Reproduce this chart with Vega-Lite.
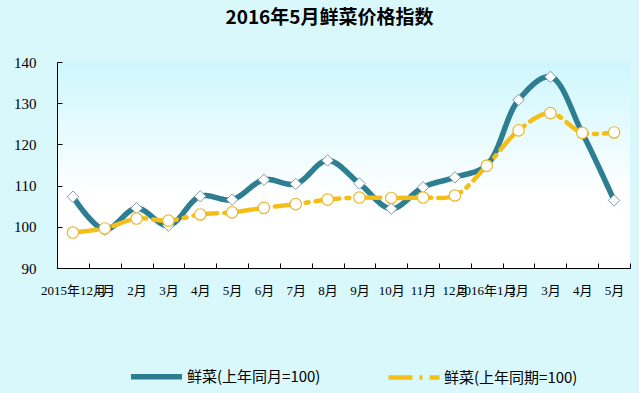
{
  "$schema": "https://vega.github.io/schema/vega-lite/v6.json",
  "autosize": "none",
  "width": 573,
  "height": 206,
  "padding": {"left": 57, "top": 62, "right": 9, "bottom": 125},
  "background": "#D8F8FC",
  "config": {
    "view": {"stroke": null, "fill": {"gradient": "linear", "x1": 0, "y1": 0, "x2": 0, "y2": 1, "stops": [{"offset": 0, "color": "#CDF7FD"}, {"offset": 0.65, "color": "#FFFFFF"}, {"offset": 1, "color": "#FFFFFF"}]}},
    "font": "Noto Sans CJK SC"
  },
  "title": {
    "text": "2016年5月鲜菜价格指数",
    "font": "Noto Sans CJK SC",
    "fontSize": 19,
    "fontWeight": "bold",
    "color": "#000000",
    "anchor": "middle",
    "dx": -14,
    "offset": 27
  },
  "data": {
    "values": [
      {"m": "2015年12月", "s": "鲜菜(上年同月=100)", "v": 107.3},
      {"m": "1月", "s": "鲜菜(上年同月=100)", "v": 99.3},
      {"m": "2月", "s": "鲜菜(上年同月=100)", "v": 104.5},
      {"m": "3月", "s": "鲜菜(上年同月=100)", "v": 100.3},
      {"m": "4月", "s": "鲜菜(上年同月=100)", "v": 107.4},
      {"m": "5月", "s": "鲜菜(上年同月=100)", "v": 106.6},
      {"m": "6月", "s": "鲜菜(上年同月=100)", "v": 111.4},
      {"m": "7月", "s": "鲜菜(上年同月=100)", "v": 110.4},
      {"m": "8月", "s": "鲜菜(上年同月=100)", "v": 116.1},
      {"m": "9月", "s": "鲜菜(上年同月=100)", "v": 110.5},
      {"m": "10月", "s": "鲜菜(上年同月=100)", "v": 104.4},
      {"m": "11月", "s": "鲜菜(上年同月=100)", "v": 109.6},
      {"m": "12月", "s": "鲜菜(上年同月=100)", "v": 112.0},
      {"m": "2016年1月", "s": "鲜菜(上年同月=100)", "v": 115.0},
      {"m": "2016年2月", "s": "鲜菜(上年同月=100)", "v": 130.8},
      {"m": "2016年3月", "s": "鲜菜(上年同月=100)", "v": 136.4},
      {"m": "2016年4月", "s": "鲜菜(上年同月=100)", "v": 122.8},
      {"m": "2016年5月", "s": "鲜菜(上年同月=100)", "v": 106.4},
      {"m": "2015年12月", "s": "鲜菜(上年同期=100)", "v": 98.6},
      {"m": "1月", "s": "鲜菜(上年同期=100)", "v": 99.6},
      {"m": "2月", "s": "鲜菜(上年同期=100)", "v": 102.0},
      {"m": "3月", "s": "鲜菜(上年同期=100)", "v": 101.5},
      {"m": "4月", "s": "鲜菜(上年同期=100)", "v": 103.0},
      {"m": "5月", "s": "鲜菜(上年同期=100)", "v": 103.5},
      {"m": "6月", "s": "鲜菜(上年同期=100)", "v": 104.6},
      {"m": "7月", "s": "鲜菜(上年同期=100)", "v": 105.5},
      {"m": "8月", "s": "鲜菜(上年同期=100)", "v": 106.6},
      {"m": "9月", "s": "鲜菜(上年同期=100)", "v": 107.1},
      {"m": "10月", "s": "鲜菜(上年同期=100)", "v": 107.0},
      {"m": "11月", "s": "鲜菜(上年同期=100)", "v": 107.1},
      {"m": "12月", "s": "鲜菜(上年同期=100)", "v": 107.6},
      {"m": "2016年1月", "s": "鲜菜(上年同期=100)", "v": 114.8},
      {"m": "2016年2月", "s": "鲜菜(上年同期=100)", "v": 123.4},
      {"m": "2016年3月", "s": "鲜菜(上年同期=100)", "v": 127.6},
      {"m": "2016年4月", "s": "鲜菜(上年同期=100)", "v": 122.8},
      {"m": "2016年5月", "s": "鲜菜(上年同期=100)", "v": 122.9}
    ]
  },
  "encoding": {
    "x": {
      "field": "m",
      "type": "nominal",
      "sort": null,
      "scale": {"type": "band", "paddingInner": 0, "paddingOuter": 0},
      "axis": {
        "title": null,
        "labelAngle": 0,
        "labelExpr": "datum.label == '2016年1月' ? datum.label : replace(datum.label, '2016年', '')",
        "labelFont": "Liberation Serif, Noto Sans CJK SC",
        "labelFontSize": 13,
        "labelColor": "#000000",
        "labelOverlap": false,
        "labelBound": false,
        "labelFlush": false,
        "labelPadding": 21,
        "tickBand": "extent",
        "tickSize": -5,
        "tickColor": "#000000",
        "domainColor": "#000000",
        "grid": false
      }
    },
    "y": {
      "field": "v",
      "type": "quantitative",
      "scale": {"domain": [90, 140], "nice": false, "zero": false},
      "axis": {
        "title": null,
        "values": [90, 100, 110, 120, 130, 140],
        "labelFont": "Liberation Serif",
        "labelFontSize": 15,
        "labelColor": "#000000",
        "labelPadding": 26,
        "tickSize": -5,
        "tickColor": "#000000",
        "domainColor": "#000000",
        "grid": false
      }
    }
  },
  "layer": [
    {
      "mark": {"type": "line", "interpolate": "catmull-rom", "strokeCap": "round"},
      "encoding": {
        "color": {
          "field": "s",
          "type": "nominal",
          "sort": null,
          "scale": {"domain": ["鲜菜(上年同月=100)", "鲜菜(上年同期=100)"], "range": ["#2E7E92", "#F4BE18"]},
          "legend": {
            "title": null,
            "orient": "none",
            "legendX": 71,
            "legendY": 286,
            "direction": "horizontal",
            "symbolType": "stroke",
            "symbolSize": 2600,
            "symbolStrokeWidth": 5,
            "labelFont": "Noto Sans CJK SC",
            "labelFontSize": 15,
            "labelColor": "#000000",
            "labelOffset": 2,
            "columnPadding": 58
          }
        },
        "strokeDash": {
          "field": "s",
          "type": "nominal",
          "sort": null,
          "scale": {"domain": ["鲜菜(上年同月=100)", "鲜菜(上年同期=100)"], "range": [[1, 0], [24, 7, 3, 7]]},
          "legend": {
            "title": null,
            "orient": "none",
            "legendX": 71,
            "legendY": 286,
            "direction": "horizontal",
            "symbolType": "stroke",
            "symbolSize": 2600,
            "symbolStrokeWidth": 5,
            "labelFont": "Noto Sans CJK SC",
            "labelFontSize": 15,
            "labelColor": "#000000",
            "labelOffset": 2,
            "columnPadding": 58
          }
        },
        "strokeWidth": {
          "field": "s",
          "type": "nominal",
          "sort": null,
          "scale": {"domain": ["鲜菜(上年同月=100)", "鲜菜(上年同期=100)"], "range": [5.5, 4.5]},
          "legend": null
        }
      }
    },
    {
      "transform": [{"filter": "datum.s == '鲜菜(上年同月=100)'"}],
      "mark": {"type": "point", "shape": "diamond", "filled": true, "fill": "#FFFFFF", "stroke": "#7F9CAD", "strokeWidth": 1, "size": 130, "opacity": 1}
    },
    {
      "transform": [{"filter": "datum.s == '鲜菜(上年同期=100)'"}],
      "mark": {"type": "point", "shape": "circle", "filled": true, "fill": "#FFFFFF", "stroke": "#E8B830", "strokeWidth": 1.2, "size": 130, "opacity": 1}
    }
  ]
}
